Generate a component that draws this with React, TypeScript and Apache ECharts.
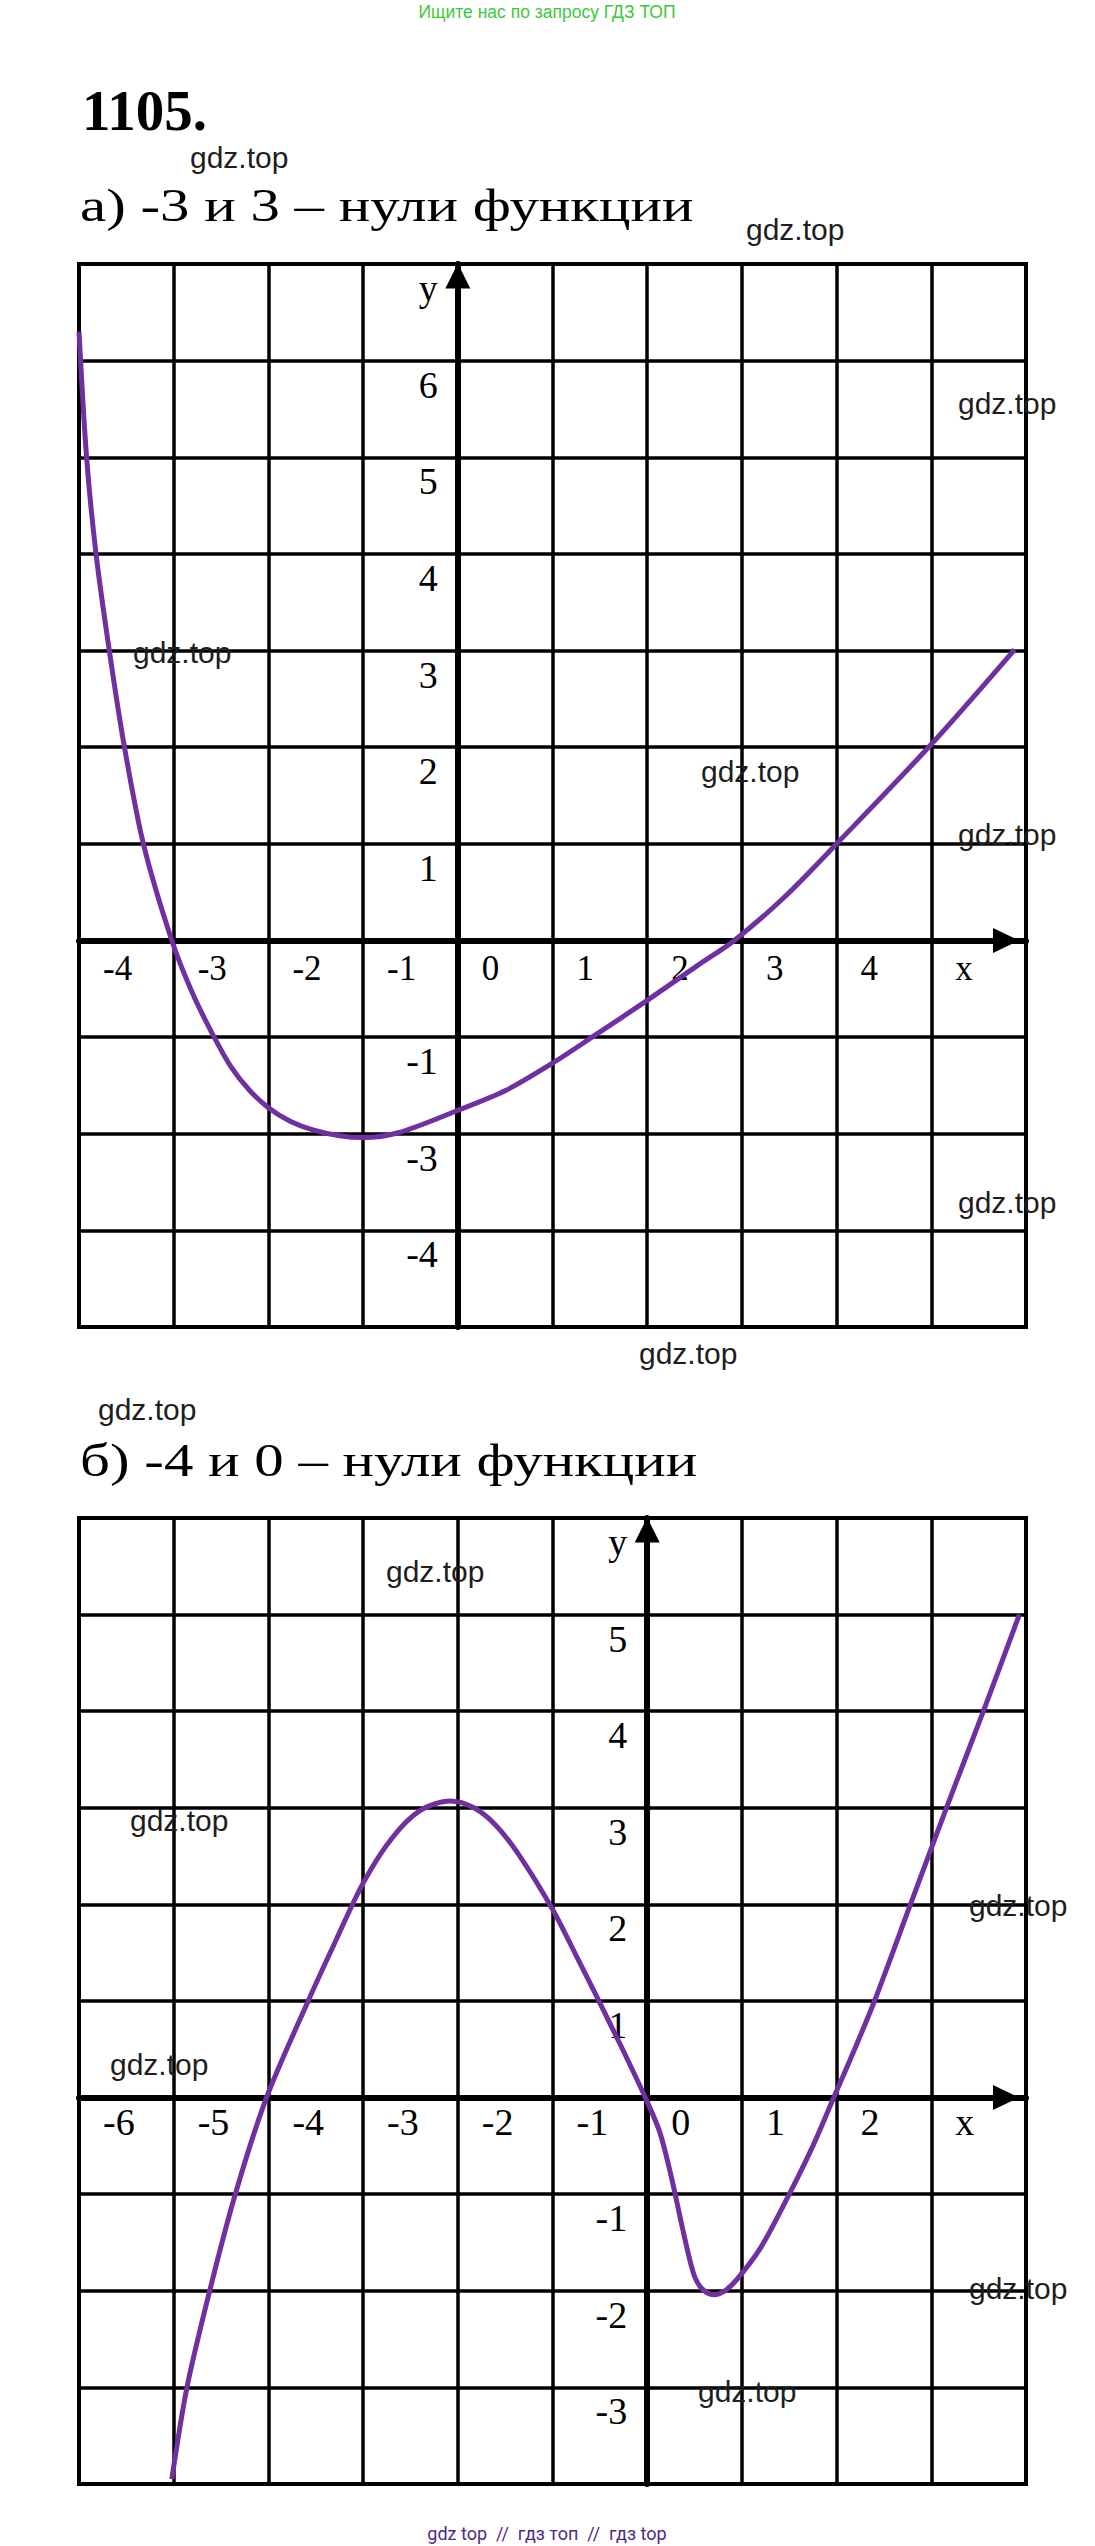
import React, { useEffect, useRef } from "react";
import * as echarts from "echarts";

// ---- Chart а) ----
const xRangeA = [-4, 6];
const yRangeA = [-4, 7];
const xTicksA = [-4, -3, -2, -1, 0, 1, 2, 3, 4, 5];
const xLabelsA = ["-4", "-3", "-2", "-1", "0", "1", "2", "3", "4", "x"];
const yTicksA = [7, 6, 5, 4, 3, 2, 1, -1, -2, -3];
const yLabelsA = ["y", "6", "5", "4", "3", "2", "1", "-1", "-3", "-4"];
const curveAx = [-4.0, -3.92, -3.82, -3.68, -3.52, -3.32, -3.02, -2.8, -2.6, -2.4, -2.2, -2.0, -1.77, -1.53, -1.25, -1.0, -0.63, -0.03, 0.51, 1.0, 1.45, 2.0, 2.53, 2.92, 3.45, 4.0, 5.0, 5.88];
const curveAy = [6.3, 5.0, 4.0, 3.0, 2.0, 1.0, 0.0, -0.55, -0.95, -1.3, -1.55, -1.73, -1.87, -1.96, -2.02, -2.04, -1.99, -1.77, -1.55, -1.27, -0.98, -0.62, -0.26, 0.0, 0.45, 1.0, 2.03, 3.01];

// ---- Chart б) ----
const xRangeB = [-6, 4];
const yRangeB = [-4, 6];
const xTicksB = [-6, -5, -4, -3, -2, -1, 0, 1, 2, 3];
const xLabelsB = ["-6", "-5", "-4", "-3", "-2", "-1", "0", "1", "2", "x"];
const yTicksB = [6, 5, 4, 3, 2, 1, -1, -2, -3];
const yLabelsB = ["y", "5", "4", "3", "2", "1", "-1", "-2", "-3"];
const curveBx = [-5.02, -4.86, -4.62, -4.35, -4.02, -3.58, -3.3, -3.0, -2.7, -2.4, -2.08, -1.83, -1.6, -1.36, -1.0, -0.75, -0.5, -0.25, -0.02, 0.13, 0.25, 0.35, 0.43, 0.5, 0.58, 0.7, 0.82, 0.95, 1.2, 1.5, 1.75, 1.97, 2.19, 2.4, 2.78, 3.16, 3.55, 3.93];
const curveBy = [-3.95, -3.0, -2.0, -1.0, 0.0, 1.0, 1.6, 2.22, 2.68, 2.97, 3.07, 3.0, 2.82, 2.52, 1.95, 1.47, 0.98, 0.48, 0.0, -0.35, -0.8, -1.25, -1.6, -1.85, -1.98, -2.04, -2.0, -1.88, -1.55, -1.0, -0.5, 0.0, 0.5, 1.0, 2.0, 3.0, 4.0, 5.0];

// ---- texts ----
const headerText = "Ищите нас по запросу ГДЗ ТОП";
const numberText = "1105.";
const titleA = "а) -3 и 3 – нули функции";
const titleB = "б) -4 и 0 – нули функции";
const footerText = "gdz top  //  гдз топ  //  гдз top";
const watermark = "gdz.top";
const wmX = [190, 746, 958, 133, 701, 958, 958, 639, 98, 386, 130, 969, 110, 969, 698];
const wmY = [157, 229, 403, 652, 771, 834, 1202, 1353, 1409, 1571, 1820, 1905, 2064, 2288, 2391];

const PURPLE = "#7030A0";
const SERIF = '"Liberation Serif", "Times New Roman", serif';
const SANS = '"Liberation Sans", Arial, sans-serif';

const GRID_A = { left: 79, top: 264, width: 947, height: 1063 };
const GRID_B = { left: 79, top: 1518, width: 947, height: 966 };

const fmt = (ticks: number[], labels: string[]) => (v: number) => {
  const r = Math.round(v);
  if (Math.abs(v - r) > 1e-6) return "";
  const i = ticks.indexOf(r);
  return i >= 0 ? labels[i] : "";
};

// offset that moves an edge axis onto the other axis' zero
const zeroOffset = (range: number[], size: number) => -((0 - range[0]) / (range[1] - range[0])) * size;

const makeX = (gridIndex: number, range: number[], yRange: number[], gridH: number, ticks: number[], labels: string[], fontSize: number, margin: number) => ({
  type: "value",
  gridIndex,
  min: range[0],
  max: range[1],
  interval: 1,
  position: "bottom",
  offset: zeroOffset(yRange, gridH),
  z: 2,
  axisLine: {
    show: true,
    onZero: false,
    symbol: ["none", "triangle"],
    symbolSize: [25, 26],
    symbolOffset: [0, -20],
    lineStyle: { color: "#000", width: 6 },
  },
  axisTick: { show: false },
  splitLine: { show: true, lineStyle: { color: "#000", width: 3.5 } },
  axisLabel: {
    show: true,
    showMinLabel: true,
    showMaxLabel: true,
    formatter: fmt(ticks, labels),
    color: "#000",
    fontFamily: SERIF,
    fontSize,
    align: "left",
    padding: [0, 0, 0, 24],
    margin,
  },
});

const makeY = (gridIndex: number, range: number[], xRange: number[], gridW: number, ticks: number[], labels: string[]) => ({
  type: "value",
  gridIndex,
  min: range[0],
  max: range[1],
  interval: 1,
  position: "left",
  offset: zeroOffset(xRange, gridW),
  z: 2,
  axisLine: {
    show: true,
    onZero: false,
    symbol: ["none", "triangle"],
    symbolSize: [25, 25],
    symbolOffset: [0, -12],
    lineStyle: { color: "#000", width: 6 },
  },
  axisTick: { show: false },
  splitLine: { show: true, lineStyle: { color: "#000", width: 3.5 } },
  axisLabel: {
    show: true,
    showMinLabel: true,
    showMaxLabel: true,
    formatter: fmt(ticks, labels),
    color: "#000",
    fontFamily: SERIF,
    fontSize: 38,
    align: "right",
    verticalAlign: "top",
    padding: [5, 0, 0, 0],
    margin: 20,
  },
});

export default function App() {
  const ref = useRef<HTMLDivElement>(null);

  useEffect(() => {
    if (!ref.current) return;
    const chart = echarts.init(ref.current, null, { renderer: "svg" });

    const dataA = curveAx.map((x, i) => [x, curveAy[i]]);
    const dataB = curveBx.map((x, i) => [x, curveBy[i]]);

    const graphics: any[] = [
      {
        type: "text",
        x: 547,
        y: 12,
        z: 10,
        style: { text: headerText, fill: "#3cc83c", font: `17.5px ${SANS}`, align: "center", verticalAlign: "middle" },
      },
      {
        type: "text",
        x: 82,
        y: 110,
        z: 10,
        style: { text: numberText, fill: "#000", font: `bold 57px ${SERIF}`, align: "left", verticalAlign: "middle" },
      },
      {
        type: "text",
        x: 80,
        y: 205,
        scaleX: 1.28,
        z: 10,
        style: { text: titleA, fill: "#000", font: `46px ${SERIF}`, align: "left", verticalAlign: "middle" },
      },
      {
        type: "text",
        x: 80,
        y: 1460,
        scaleX: 1.28,
        z: 10,
        style: { text: titleB, fill: "#000", font: `46px ${SERIF}`, align: "left", verticalAlign: "middle" },
      },
      {
        type: "text",
        x: 547,
        y: 2533,
        z: 10,
        style: { text: footerText, fill: "#4e2a84", font: `18px Roboto, ${SANS}`, align: "center", verticalAlign: "middle" },
      },
    ];
    wmX.forEach((x, i) => {
      graphics.push({
        type: "text",
        x,
        y: wmY[i],
        z: 10,
        style: { text: watermark, fill: "#1e1e1e", font: `30px ${SANS}`, align: "left", verticalAlign: "middle" },
      });
    });

    chart.setOption({
      animation: false,
      backgroundColor: "#fff",
      grid: [
        { ...GRID_A, show: true, borderColor: "#000", borderWidth: 4, backgroundColor: "transparent" },
        { ...GRID_B, show: true, borderColor: "#000", borderWidth: 4, backgroundColor: "transparent" },
      ],
      xAxis: [
        makeX(0, xRangeA, yRangeA, GRID_A.height, xTicksA, xLabelsA, 35, 11),
        makeX(1, xRangeB, yRangeB, GRID_B.height, xTicksB, xLabelsB, 38, 5),
      ],
      yAxis: [
        makeY(0, yRangeA, xRangeA, GRID_A.width, yTicksA, yLabelsA),
        makeY(1, yRangeB, xRangeB, GRID_B.width, yTicksB, yLabelsB),
      ],
      series: [
        {
          type: "line",
          xAxisIndex: 0,
          yAxisIndex: 0,
          data: dataA,
          smooth: 0.3,
          showSymbol: false,
          symbol: "none",
          z: 5,
          lineStyle: { color: PURPLE, width: 5 },
        },
        {
          type: "line",
          xAxisIndex: 1,
          yAxisIndex: 1,
          data: dataB,
          smooth: 0.3,
          showSymbol: false,
          symbol: "none",
          z: 5,
          lineStyle: { color: PURPLE, width: 5 },
        },
      ],
      graphic: graphics,
    });

    return () => chart.dispose();
  }, []);

  return (
    <div
      ref={ref}
      style={{ position: "absolute", left: 0, top: 0, width: 1095, height: 2546, background: "#fff" }}
    />
  );
}
